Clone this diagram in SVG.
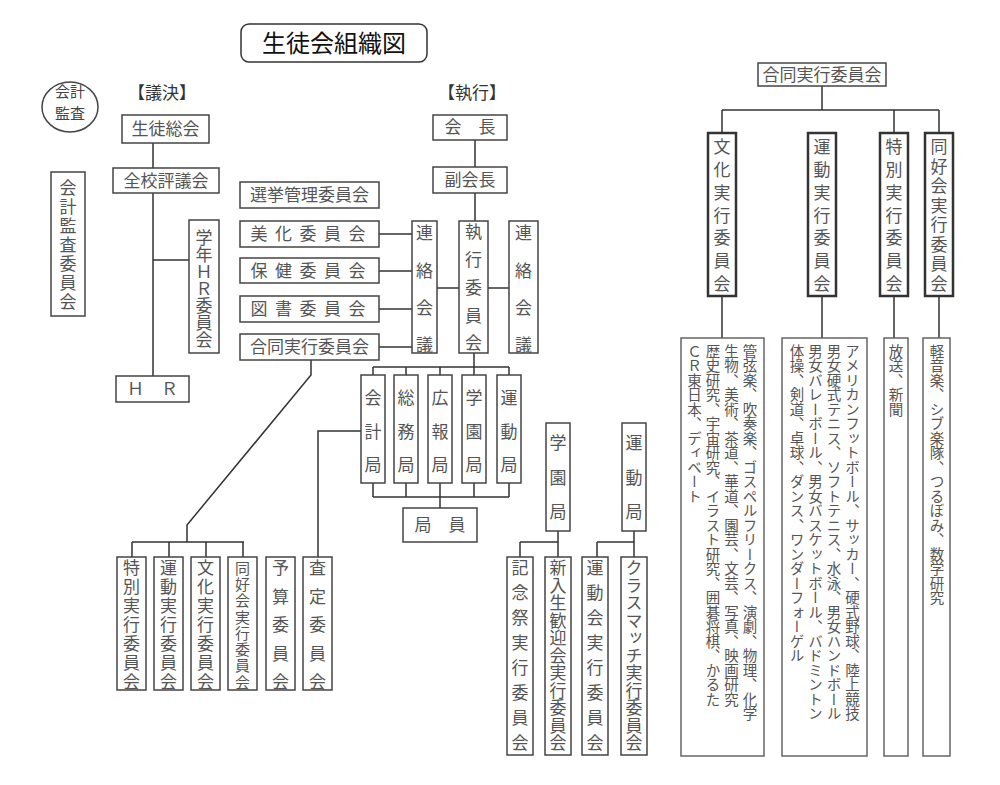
<svg xmlns="http://www.w3.org/2000/svg" width="1000" height="785" viewBox="0 0 1000 785">
<style>
.box{fill:#fff;stroke:#444;stroke-width:1.5}
.tb{fill:#fff;stroke:#333;stroke-width:2.5}
.lb{fill:#fff;stroke:#666;stroke-width:1.5}
.ln{fill:none;stroke:#333;stroke-width:1.5}
.t{font-family:"Noto Sans CJK JP","Noto Sans CJK SC",sans-serif;font-size:17px;fill:#555}
.c{text-anchor:middle}
.v{writing-mode:vertical-rl}
.s{font-size:14.5px}
</style>
<rect width="1000" height="785" fill="#fff"/>
<g id="title">
<rect x="241" y="24" width="186" height="38" rx="8" fill="#fff" stroke="#333" stroke-width="1.5"/>
<text class="t c" x="334" y="52" style="font-size:24px;fill:#111">生徒会組織図</text>
</g>
<g id="audit-circle">
<ellipse cx="70" cy="107" rx="28" ry="25" fill="#fff" stroke="#444" stroke-width="1.5"/>
<text class="t c" x="70" y="97" style="font-size:15px;fill:#444">会計</text>
<text class="t c" x="70" y="119" style="font-size:15px;fill:#444">監査</text>
</g>
<g id="label-giketsu"><text class="t c" x="162" y="99" style="fill:#333">【議決】</text></g>
<g id="label-shikko"><text class="t c" x="472" y="99" style="fill:#333">【執行】</text></g>

<g id="connectors">
<path class="ln" d="M153 143V168M153 193V376M153 260H189"/>
<path class="ln" d="M475 140V167M475 193V221"/>
<path class="ln" d="M379 234H412M379 271H412M379 309H412M379 347H412M437 288H459M488 288H509"/>
<path class="ln" d="M474 353V375M373 367H509M373 367V375M406 367V375M440 367V375M509 367V375"/>
<path class="ln" d="M373 483V497M406 483V497M440 483V497M474 483V497M509 483V497M373 497H509M440 497V508"/>
<path class="ln" d="M361 431H318V557"/>
<path class="ln" d="M311 360V375L187 525V542M132 542H244M132 542V557M169 542V557M206 542V557M243 542V557"/>
<path class="ln" d="M558 531V557M520 542H558M520 542V557M634 531V557M597 542H634M597 542V557"/>
<path class="ln" d="M822 86V110M722 110H939M722 110V133M894 110V133M939 110V133"/>
<path class="ln" d="M722 296V338M822 296V338M894 296V338M939 296V338"/>
</g>

<g id="seito-sokai"><rect class="box" x="122" y="115" width="87" height="28"/><text class="t c" x="165.5" y="135">生徒総会</text></g>
<g id="zenko-hyogikai"><rect class="box" x="113" y="168" width="106" height="25"/><text class="t c" x="166" y="187">全校評議会</text></g>
<g id="gakunen-hr"><rect class="box" x="189" y="220" width="30" height="133"/><text class="t v" x="204" y="229">学年ＨＲ委員会</text></g>
<g id="hr"><rect class="box" x="116" y="376" width="73" height="26"/><text class="t c" x="152.5" y="395">Ｈ　Ｒ</text></g>
<g id="kaikei-kansa-iinkai"><rect class="box" x="51" y="172" width="34" height="144"/><text class="t v" x="68" y="179.5" style="letter-spacing:2px">会計監査委員会</text></g>

<g id="kaicho"><rect class="box" x="433" y="115" width="74" height="25"/><text class="t c" x="470" y="133">会　長</text></g>
<g id="fukukaicho"><rect class="box" x="433" y="167" width="74" height="26"/><text class="t c" x="470" y="186">副会長</text></g>
<g id="senkyo"><rect class="box" x="240" y="182" width="139" height="26"/><text class="t c" x="309.5" y="201">選挙管理委員会</text></g>
<g id="bika"><rect class="box" x="240" y="221" width="139" height="26"/><text class="t" x="250.5" y="240" style="letter-spacing:7.5px">美化委員会</text></g>
<g id="hoken"><rect class="box" x="240" y="258" width="139" height="25"/><text class="t" x="250.5" y="277" style="letter-spacing:7.5px">保健委員会</text></g>
<g id="tosho"><rect class="box" x="240" y="296" width="139" height="26"/><text class="t" x="250.5" y="315" style="letter-spacing:7.5px">図書委員会</text></g>
<g id="godo-left"><rect class="box" x="240" y="334" width="139" height="26"/><text class="t c" x="309.5" y="353">合同実行委員会</text></g>
<g id="renraku-l"><rect class="box" x="412" y="221" width="25" height="132"/><text class="t v" x="424.5" y="224.5" style="letter-spacing:20.3px">連絡会議</text></g>
<g id="shikko-iinkai"><rect class="box" x="459" y="221" width="29" height="132"/><text class="t v" x="473.5" y="223.5" style="letter-spacing:10.75px">執行委員会</text></g>
<g id="renraku-r"><rect class="box" x="509" y="221" width="29" height="132"/><text class="t v" x="523.5" y="224.5" style="letter-spacing:20.3px">連絡会議</text></g>

<g id="kaikei-kyoku"><rect class="box" x="361" y="375" width="24" height="108"/><text class="t v" x="373" y="389.5" style="letter-spacing:16.5px">会計局</text></g>
<g id="somu-kyoku"><rect class="box" x="394" y="375" width="24" height="108"/><text class="t v" x="406" y="389.5" style="letter-spacing:16.5px">総務局</text></g>
<g id="koho-kyoku"><rect class="box" x="428" y="375" width="24" height="108"/><text class="t v" x="440" y="389.5" style="letter-spacing:16.5px">広報局</text></g>
<g id="gakuen-kyoku"><rect class="box" x="462" y="375" width="24" height="108"/><text class="t v" x="474" y="389.5" style="letter-spacing:16.5px">学園局</text></g>
<g id="undo-kyoku"><rect class="box" x="497" y="375" width="24" height="108"/><text class="t v" x="509" y="389.5" style="letter-spacing:16.5px">運動局</text></g>
<g id="kyokuin"><rect class="box" x="403" y="508" width="74" height="34"/><text class="t c" x="440" y="531">局　員</text></g>

<g id="tokubetsu-b"><rect class="box" x="117" y="557" width="29" height="133"/><text class="t v" x="131.5" y="559.5" style="letter-spacing:2px">特別実行委員会</text></g>
<g id="undo-b"><rect class="box" x="154" y="557" width="29" height="133"/><text class="t v" x="168.5" y="559.5" style="letter-spacing:2px">運動実行委員会</text></g>
<g id="bunka-b"><rect class="box" x="191" y="557" width="29" height="133"/><text class="t v" x="205.5" y="559.5" style="letter-spacing:2px">文化実行委員会</text></g>
<g id="dokokai-b"><rect class="box" x="228" y="557" width="29" height="133"/><text class="t v" x="242.5" y="560.5" style="font-size:15px;letter-spacing:1.3px">同好会実行委員会</text></g>
<g id="yosan"><rect class="box" x="266" y="557" width="29" height="133"/><text class="t v" x="280.5" y="559.5" style="letter-spacing:11.5px">予算委員会</text></g>
<g id="satei"><rect class="box" x="303" y="557" width="29" height="133"/><text class="t v" x="317.5" y="559.5" style="letter-spacing:11.5px">査定委員会</text></g>

<g id="gakuen-kyoku-2"><rect class="box" x="546" y="423" width="24" height="108"/><text class="t v" x="558" y="434.5" style="letter-spacing:17.5px">学園局</text></g>
<g id="undo-kyoku-2"><rect class="box" x="622" y="423" width="24" height="108"/><text class="t v" x="634" y="434.5" style="letter-spacing:17.5px">運動局</text></g>
<g id="kinensai"><rect class="box" x="507" y="557" width="26" height="198"/><text class="t v" x="520" y="559.5" style="letter-spacing:8px">記念祭実行委員会</text></g>
<g id="shinnyusei"><rect class="box" x="545" y="557" width="26" height="198"/><text class="t v" x="558" y="559.5" style="letter-spacing:0.5px">新入生歓迎会実行委員会</text></g>
<g id="undokai"><rect class="box" x="582" y="557" width="26" height="198"/><text class="t v" x="595" y="559.5" style="letter-spacing:8px">運動会実行委員会</text></g>
<g id="classmatch"><rect class="box" x="621" y="557" width="26" height="198"/><text class="t v" x="634" y="559.5" style="letter-spacing:0.5px">クラスマッチ実行委員会</text></g>

<g id="godo-right"><rect class="box" x="758" y="63" width="128" height="23"/><text class="t c" x="822" y="80.5">合同実行委員会</text></g>
<g id="bunka-top"><rect class="tb" x="708" y="133" width="28" height="163"/><text class="t v" x="722" y="138.5" style="letter-spacing:5.7px">文化実行委員会</text></g>
<g id="undo-top"><rect class="tb" x="808" y="133" width="28" height="163"/><text class="t v" x="822" y="138.5" style="letter-spacing:5.7px">運動実行委員会</text></g>
<g id="tokubetsu-top"><rect class="tb" x="880" y="133" width="28" height="163"/><text class="t v" x="894" y="138.5" style="letter-spacing:5.7px">特別実行委員会</text></g>
<g id="dokokai-top"><rect class="tb" x="925" y="133" width="28" height="163"/><text class="t v" x="939" y="138.5" style="letter-spacing:2.5px">同好会実行委員会</text></g>

<g id="bunka-list"><rect class="lb" x="681" y="338" width="83" height="418"/>
<text class="t v s" x="750" y="344">管弦楽、吹奏楽、ゴスペルフリークス、演劇、物理、化学</text>
<text class="t v s" x="731.5" y="344">生物、美術、茶道、華道、園芸、文芸、写真、映画研究</text>
<text class="t v s" x="713" y="344">歴史研究、宇宙研究、イラスト研究、囲碁将棋、かるた</text>
<text class="t v s" x="694.5" y="344">ＣＲ東日本、ディベート</text>
</g>
<g id="undo-list"><rect class="lb" x="782" y="338" width="85" height="418"/>
<text class="t v s" x="852.5" y="344">アメリカンフットボール、サッカー、硬式野球、陸上競技</text>
<text class="t v s" x="834" y="344">男女硬式テニス、ソフトテニス、水泳、男女ハンドボール</text>
<text class="t v s" x="815.5" y="344">男女バレーボール、男女バスケットボール、バドミントン</text>
<text class="t v s" x="797" y="344">体操、剣道、卓球、ダンス、ワンダーフォーゲル</text>
</g>
<g id="tokubetsu-list"><rect class="lb" x="884" y="338" width="24" height="418"/>
<text class="t v s" x="896" y="344">放送、新聞</text>
</g>
<g id="dokokai-list"><rect class="lb" x="923" y="338" width="27" height="418"/>
<text class="t v s" x="937" y="344">軽音楽、シブ楽隊、つるぼみ、数学研究</text>
</g>
</svg>
